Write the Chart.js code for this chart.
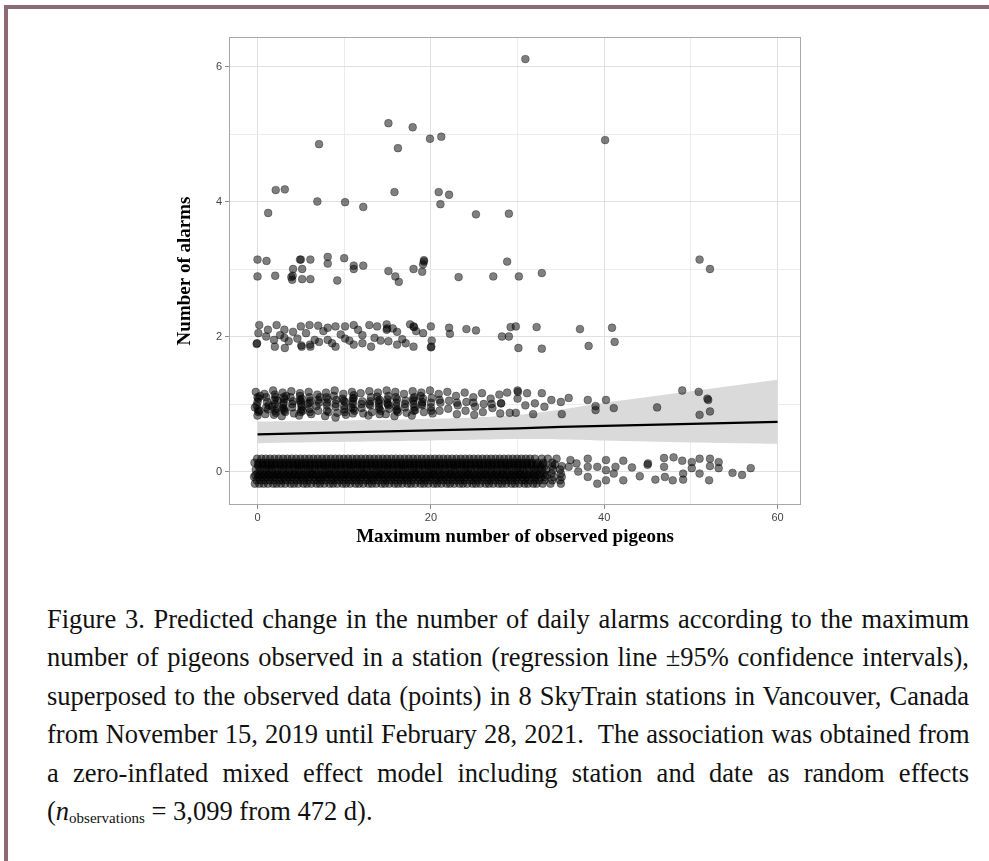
<!DOCTYPE html>
<html>
<head>
<meta charset="utf-8">
<script src="https://cdn.jsdelivr.net/npm/chart.js@4.4.1/dist/chart.umd.min.js"></script>
<style>
  html, body { margin: 0; padding: 0; background: #fff; }
  body { width: 989px; height: 861px; position: relative; overflow: hidden; }
  #frame { position: absolute; left: 4px; top: 5px; right: 0; bottom: 0;
           border-top: 4px solid #8e6a73; border-left: 4px solid #8e6a73; }
  #wrap { position: absolute; left: 0; top: 0; width: 989px; height: 580px; }
  .ln { position: absolute; left: 47px; width: 922px; height: 38px; line-height: 38px;
        font-family: 'Liberation Serif', 'Times New Roman', serif; font-size: 26.5px;
        color: #111; white-space: nowrap; text-align: left; }
  .ln sub { font-size: 15px; vertical-align: -3px; line-height: 0; }
</style>
</head>
<body>
<div id="frame"></div>
<div id="wrap"><canvas id="c" width="989" height="580"></canvas></div>
<div id="caption"></div>
<script>
// ---------------- data ----------------
const xTicks = [0, 10, 20, 30, 40, 50, 60];
const xTickLabels = ['0', '', '20', '', '40', '', '60'];
const yTicks = [0, 1, 2, 3, 4, 5, 6];
const yTickLabels = ['0', '', '2', '', '4', '', '6'];

const xTitle = 'Maximum number of observed pigeons';
const yTitle = 'Number of alarms';

// observed days with 6 alarms
const alarms6 = [[30.9, 6.11]];
// 5 alarms
const alarms5 = [[7.1,4.85],[15.1,5.16],[17.9,5.10],[16.2,4.79],[19.9,4.93],[21.2,4.96],[40.1,4.91]];
// 4 alarms
const alarms4 = [[2.1,4.17],[3.15,4.18],[1.23,3.83],[6.9,4.0],[10.1,3.99],[12.2,3.92],[15.8,4.14],
  [20.9,4.14],[22.1,4.10],[21.1,3.96],[25.2,3.81],[29.0,3.82]];
// 3 alarms
const alarms3 = [[0,3.14],[1.04,3.12],[0,2.89],[2.04,2.90],[4.9,3.14],[5.0,3.14],[6.1,3.14],[4.1,3.0],
  [5.15,3.0],[3.9,2.88],[4.0,2.84],[4.05,2.9],[5.15,2.85],[6.1,2.85],[8.1,3.18],[8.1,3.08],[10.0,3.16],
  [11.1,3.05],[11.1,3.0],[12.2,3.05],[9.2,2.83],[15.1,2.97],[15.9,2.89],[16.3,2.81],[18.0,3.0],[19.0,2.96],
  [19.1,3.07],[19.2,3.13],[19.2,3.11],[23.2,2.88],[27.2,2.89],[28.8,3.11],[30.15,2.89],[32.8,2.94],
  [51.0,3.14],[52.2,3.0]];
// 2 alarms
const alarms2 = [[0.2,2.17],[0.1,2.05],[-0.1,1.89],[-0.05,1.9],[1.0,2.0],[1.9,1.95],[2.0,1.85],[2.2,2.17],
  [3.1,2.1],[3.1,1.98],[3.15,1.83],[4.1,2.07],[5.0,2.15],[5.1,1.85],[5.05,1.87],[6.0,2.17],[6.1,1.85],
  [6.05,1.88],[7.0,2.16],[7.1,1.92],[8.1,2.13],[8.1,1.95],[9.0,2.15],[9.0,1.85],[10.1,2.15],[10.1,1.97],
  [11.1,2.17],[11.1,1.88],[12.1,2.02],[12.1,1.9],[12.9,2.17],[13.1,1.85],[13.8,2.15],[14.2,1.94],
  [14.9,2.18],[14.9,2.1],[14.95,2.12],[15.1,1.93],[16.1,2.07],[16.1,1.88],[17.1,1.9],[18.0,2.15],
  [18.05,2.14],[18.0,1.85],[18.3,2.08],[20.0,2.15],[20.1,1.94],[20.0,1.84],[20.05,1.85],[22.1,2.13],
  [22.2,2.04],[24.1,2.11],[25.2,2.09],[28.2,2.0],[29.0,2.0],[29.2,2.14],[29.8,2.15],[32.2,2.14],
  [37.2,2.11],[40.9,2.13],[30.1,1.83],[32.8,1.82],[38.2,1.86],[41.2,1.92],
  [1.2,2.1],[2.6,2.02],[3.6,1.93],[4.6,1.97],[5.6,2.05],[6.6,1.95],[7.6,2.08],[8.6,1.9],[9.6,2.03],
  [10.6,1.94],[11.6,2.1],[13.5,1.98],[15.6,2.12],[16.7,1.96],[17.6,2.18],[19.1,2.05]];
// 1 alarm
const alarms1 = [
  [-0.2,1.18],[0.1,1.08],[-0.1,0.98],[0.2,0.9],[0,0.83],[0.3,1.12],[-0.3,0.95],[0.0,1.03],[0.1,0.88],
  [0.8,1.15],[1.1,1.03],[1.2,0.92],[0.9,0.85],[1.0,1.1],[1.3,0.98],[1.0,0.95],
  [1.8,1.2],[2.1,1.1],[2.0,1.0],[2.2,0.93],[1.9,0.84],[2.3,1.05],[1.7,0.96],[2.0,1.14],[2.1,0.87],
  [2.9,1.17],[3.1,1.07],[3.0,0.99],[3.2,0.88],[2.8,0.82],[3.3,1.12],[2.9,0.94],[3.0,1.02],[3.1,0.9],
  [3.9,1.19],[4.1,1.04],[4.0,0.95],[4.2,0.86],[3.8,1.1],[4.0,1.0],
  [4.9,1.16],[5.1,1.08],[5.0,1.0],[5.2,0.9],[4.8,0.83],[5.1,0.96],[4.9,1.12],[5.0,1.04],[5.0,0.88],
  [5.9,1.18],[6.1,1.05],[6.0,0.93],[6.2,0.85],[5.8,1.0],[6.0,1.1],
  [6.9,1.14],[7.1,1.02],[7.0,0.9],[6.8,0.97],[7.2,1.1],[7.0,1.06],
  [7.9,1.17],[8.1,1.07],[8.0,0.98],[8.2,0.88],[7.8,0.82],[8.0,1.02],
  [8.9,1.2],[9.1,1.06],[9.0,0.96],[9.2,0.87],[8.8,1.12],[9.0,0.8],[9.0,1.0],
  [9.9,1.15],[10.1,1.03],[10.0,0.92],[10.2,0.84],[9.8,1.08],[10.0,0.97],
  [10.9,1.18],[11.1,1.09],[11.0,1.0],[11.2,0.9],[10.8,0.95],[11.1,1.13],[11.0,1.04],[11.0,0.86],
  [11.9,1.16],[12.1,1.04],[12.0,0.94],[12.2,0.86],[12.0,1.0],
  [12.9,1.19],[13.1,1.1],[13.0,0.98],[13.2,0.88],[12.8,0.83],[13.0,1.04],
  [13.9,1.17],[14.1,1.06],[14.0,0.96],[14.2,0.9],[13.8,1.11],[14.0,1.01],[14.1,0.85],
  [14.9,1.2],[15.1,1.12],[15.0,1.02],[15.2,0.93],[14.8,0.85],[15.1,0.98],[15.0,1.07],
  [15.9,1.18],[16.1,1.07],[16.0,0.97],[16.2,0.88],[15.8,0.82],[16.0,1.02],[16.1,0.92],
  [16.9,1.15],[17.1,1.05],[17.0,0.95],[17.2,0.87],[17.0,1.0],
  [17.9,1.19],[18.1,1.1],[18.0,1.0],[18.2,0.91],[17.8,0.83],[18.0,1.05],[18.1,0.95],
  [18.9,1.17],[19.1,1.08],[19.0,0.98],[19.2,0.88],[18.8,1.12],[19.0,1.03],
  [19.9,1.2],[20.1,1.09],[20.0,0.95],[20.2,0.86],[20.0,1.02],
  [20.9,1.15],[21.1,1.02],[21.0,0.9],
  [21.9,1.18],[22.1,1.05],[22.0,0.93],
  [22.9,1.12],[23.1,0.98],[23.0,0.85],
  [23.9,1.17],[24.1,1.03],[24.0,0.9],
  [24.9,1.1],[25.1,0.96],[25.0,0.84],
  [25.9,1.16],[26.1,1.0],[26.0,0.88],
  [26.9,1.08],[27.1,0.94],
  [27.9,1.14],[28.1,1.01],[28.0,0.86],
  [49.0,1.20],[50.9,1.18],[51.9,1.08],[52.0,1.06],[51.0,0.84],[52.2,0.89],[46.1,0.95],[38.1,1.06],
  [39.0,0.97],[39.0,0.91],[40.2,1.06],[41.1,0.94],[35.9,1.09],[35.1,0.85],[35.0,1.03],[33.9,1.06],
  [33.1,0.96],[32.8,1.16],[32.0,1.01],[31.8,0.85],[31.1,1.16],[30.0,1.2],[30.05,1.18],[30.0,1.08],
  [29.8,0.87],[29.1,0.87],[28.8,1.17],[28.1,1.01],[30.9,0.98],
  // darker clusters (overlapping observations) in the 0-19 range
  [0.0,1.1],[0.05,0.92],[1.95,1.06],[2.05,0.9],[3.0,1.1],[3.05,0.93],[4.9,1.06],[5.05,0.92],
  [6.0,1.02],[6.05,0.88],[7.95,1.1],[8.0,0.9],[9.95,1.05],[10.05,0.88],[11.0,1.08],[11.05,0.93],
  [12.9,1.0],[13.95,1.05],[14.05,0.93],[15.0,1.0],[15.95,1.1],[16.05,0.9],[17.95,1.08],[18.05,0.9],
  [18.95,1.0],[20.05,0.9],[21.0,1.06],[23.0,1.02],[24.9,1.02],[27.0,1.0]];

// 0 alarms: the dense band, one list of pigeon counts per jitter row
const zeroRowLevels = [-0.18, -0.13, -0.08, -0.03, 0.03, 0.08, 0.13, 0.19, -0.055, 0.105];
const zeroRow1 = [-0.3,0.2,0.7,1.2,1.8,2.2,2.7,3.2,3.8,4.2,4.7,5.3,5.7,6.2,6.8,7.2,7.7,8.3,8.7,9.2,9.8,10.2,10.7,11.3,11.7,12.2,12.8,13.2,13.7,14.3,14.7,15.2,15.8,16.2,16.7,17.3,17.7,18.2,18.8,19.2,19.7,20.3,20.7,21.2,21.8,22.2,22.7,23.3,23.7,24.2,24.8,25.2,25.7,26.3,26.7,27.2,27.8,28.2,28.7,29.3,29.7,30.2,30.8,31.2,31.8,32.2,32.9,33.8,35.0];
const zeroRow2 = [-0.1,0.4,0.9,1.4,1.9,2.5,2.9,3.4,3.9,4.5,4.9,5.4,5.9,6.5,6.9,7.4,7.9,8.5,8.9,9.4,9.9,10.5,10.9,11.4,11.9,12.5,12.9,13.4,13.9,14.5,14.9,15.4,15.9,16.5,16.9,17.4,17.9,18.5,18.9,19.4,19.9,20.5,20.9,21.4,21.9,22.5,22.9,23.4,23.9,24.5,24.9,25.4,25.9,26.5,26.9,27.4,27.9,28.5,28.9,29.4,29.9,30.5,30.9,31.4,32.0,32.5,33.1,34.0,34.9];
const zeroRow3 = [-0.4,0.1,0.6,1.1,1.6,2.0,2.6,3.1,3.6,4.0,4.6,5.1,5.6,6.0,6.6,7.1,7.6,8.0,8.6,9.1,9.6,10.0,10.6,11.1,11.6,12.0,12.6,13.1,13.6,14.0,14.6,15.1,15.6,16.0,16.6,17.1,17.6,18.0,18.6,19.1,19.6,20.0,20.6,21.1,21.6,22.0,22.6,23.1,23.6,24.0,24.6,25.1,25.6,26.0,26.6,27.1,27.6,28.0,28.6,29.1,29.6,30.0,30.6,31.1,31.7,32.1,32.7,33.2,34.2,35.1];
const zeroRow4 = [0.0,0.5,1.0,1.5,2.1,2.4,3.0,3.5,4.1,4.4,5.0,5.5,6.1,6.4,7.0,7.5,8.1,8.4,9.0,9.5,10.1,10.4,11.0,11.5,12.1,12.4,13.0,13.5,14.1,14.4,15.0,15.5,16.1,16.4,17.0,17.5,18.1,18.4,19.0,19.5,20.1,20.4,21.0,21.5,22.1,22.4,23.0,23.5,24.1,24.4,25.0,25.5,26.1,26.4,27.0,27.5,28.1,28.4,29.0,29.5,30.1,30.4,31.0,31.5,32.0,32.6,33.0,33.9,35.0];
const zeroRow5 = [-0.2,0.3,0.8,1.3,1.7,2.3,2.8,3.3,3.7,4.3,4.8,5.3,5.8,6.3,6.7,7.3,7.8,8.3,8.8,9.3,9.7,10.3,10.8,11.3,11.8,12.3,12.7,13.3,13.8,14.3,14.8,15.3,15.7,16.3,16.8,17.3,17.8,18.3,18.7,19.3,19.8,20.3,20.8,21.3,21.7,22.3,22.8,23.3,23.8,24.3,24.7,25.3,25.8,26.3,26.8,27.3,27.7,28.3,28.8,29.3,29.8,30.3,30.7,31.3,31.9,32.3,32.8,33.3,34.1,34.9];
const zeroRow6 = [0.1,0.6,1.1,1.6,2.0,2.6,3.0,3.6,4.1,4.6,5.0,5.6,6.0,6.6,7.1,7.6,8.0,8.6,9.0,9.6,10.1,10.6,11.0,11.6,12.0,12.6,13.1,13.6,14.0,14.6,15.0,15.6,16.1,16.6,17.0,17.6,18.0,18.6,19.1,19.6,20.0,20.6,21.0,21.6,22.1,22.6,23.0,23.6,24.0,24.6,25.1,25.6,26.0,26.6,27.0,27.6,28.1,28.6,29.0,29.6,30.0,30.6,31.1,31.6,32.1,32.6,33.1,34.0,35.1];
const zeroRow7 = [-0.35,0.15,0.65,1.15,1.65,2.15,2.65,3.15,3.65,4.15,4.65,5.15,5.65,6.15,6.65,7.15,7.65,8.15,8.65,9.15,9.65,10.15,10.65,11.15,11.65,12.15,12.65,13.15,13.65,14.15,14.65,15.15,15.65,16.15,16.65,17.15,17.65,18.15,18.65,19.15,19.65,20.15,20.65,21.15,21.65,22.15,22.65,23.15,23.65,24.15,24.65,25.15,25.65,26.15,26.65,27.15,27.65,28.15,28.65,29.15,29.65,30.15,30.65,31.15,31.65,32.3,33.0,34.0];
const zeroRow8 = [-0.05,0.45,0.95,1.45,1.95,2.45,2.95,3.45,3.95,4.45,4.95,5.45,5.95,6.45,6.95,7.45,7.95,8.45,8.95,9.45,9.95,10.45,10.95,11.45,11.95,12.45,12.95,13.45,13.95,14.45,14.95,15.45,15.95,16.45,16.95,17.45,17.95,18.45,18.95,19.45,19.95,20.45,20.95,21.45,21.95,22.45,22.95,23.45,23.95,24.45,24.95,25.45,25.95,26.45,26.95,27.45,27.95,28.45,28.95,29.45,29.95,30.45,30.95,31.45,32.0,32.8,33.5,34.5];
const zeroRow9 = [-0.25,0.25,0.75,1.25,1.75,2.25,2.75,3.25,3.75,4.25,4.75,5.25,5.75,6.25,6.75,7.25,7.75,8.25,8.75,9.25,9.75,10.25,10.75,11.25,11.75,12.25,12.75,13.25,13.75,14.25,14.75,15.25,15.75,16.25,16.75,17.25,17.75,18.25,18.75,19.25,19.75,20.25,20.75,21.25,21.75,22.25,22.75,23.25,23.75,24.25,24.75,25.25,25.75,26.25,26.75,27.25,27.75,28.25,28.75,29.25,29.75,30.25,30.75,31.25,31.85,32.4,33.4];
const zeroRow10 = [0.05,0.55,1.05,1.55,2.05,2.55,3.05,3.55,4.05,4.55,5.05,5.55,6.05,6.55,7.05,7.55,8.05,8.55,9.05,9.55,10.05,10.55,11.05,11.55,12.05,12.55,13.05,13.55,14.05,14.55,15.05,15.55,16.05,16.55,17.05,17.55,18.05,18.55,19.05,19.55,20.05,20.55,21.05,21.55,22.05,22.55,23.05,23.55,24.05,24.55,25.05,25.55,26.05,26.55,27.05,27.55,28.05,28.55,29.05,29.55,30.05,30.55,31.05,31.55,32.15,32.9,34.3];
// 0 alarms: the sparse tail beyond ~35 pigeons
const alarms0Tail = [[36.1,0.17],[35.9,0.07],[36.8,0.12],[37.0,0.0],[38.1,0.19],[38.1,0.07],[38.1,-0.08],
  [39.2,-0.18],[39.2,0.07],[40.2,0.17],[40.2,0.02],[40.2,-0.13],[41.1,-0.03],[41.3,0.07],[42.2,0.16],
  [42.2,-0.13],[43.2,0.06],[44.1,-0.07],[45.0,0.10],[45.05,0.12],[45.9,-0.12],[46.9,0.20],[46.9,0.07],
  [47.0,-0.08],[48.0,0.21],[47.9,-0.13],[49.0,0.16],[49.1,-0.03],[49.1,-0.12],[50.1,0.14],[50.1,0.05],
  [51.0,0.19],[51.0,-0.03],[52.2,0.19],[52.2,0.08],[52.1,-0.13],[53.2,0.14],[53.2,0.05],[54.8,-0.02],
  [55.9,-0.05],[56.9,0.05]];

// fitted regression line and 95% confidence band
const fitX     = [0, 10, 20, 25, 30, 35, 40, 50, 60];
const fitY     = [0.55, 0.58, 0.61, 0.625, 0.64, 0.66, 0.675, 0.705, 0.735];
const ciUpper  = [0.74, 0.755, 0.78, 0.80, 0.84, 0.92, 1.02, 1.19, 1.36];
const ciLower  = [0.42, 0.44, 0.46, 0.47, 0.48, 0.475, 0.46, 0.43, 0.41];

// ---------------- build ----------------
const toPts = arr => arr.map(p => ({x: p[0], y: p[1]}));
const zeroRows = [zeroRow1, zeroRow2, zeroRow3, zeroRow4, zeroRow5, zeroRow6, zeroRow7, zeroRow8, zeroRow9, zeroRow10];
const alarms0 = [];
zeroRows.forEach((row, i) => row.forEach(x => alarms0.push([x, zeroRowLevels[i]])));
alarms0Tail.forEach(p => alarms0.push(p));

const pointStyle = {
  type: 'scatter',
  pointRadius: 3.9,
  pointBackgroundColor: 'rgba(0,0,0,0.5)',
  pointBorderColor: 'rgba(0,0,0,0.32)',
  pointBorderWidth: 1,
  pointHoverRadius: 3.9,
  showLine: false,
  order: 0
};
const levels = [alarms0, alarms1, alarms2, alarms3, alarms4, alarms5, alarms6];
const datasets = levels.map((arr, i) => Object.assign({label: i + ' alarms', data: toPts(arr)}, pointStyle));

datasets.push({
  type: 'line', label: 'fit', data: fitX.map((x, i) => ({x, y: fitY[i]})),
  borderColor: '#000', borderWidth: 2.2, pointRadius: 0, fill: false, tension: 0.2, order: 1
});
const lowIdx = datasets.length;
datasets.push({
  type: 'line', label: 'ci lower', data: fitX.map((x, i) => ({x, y: ciLower[i]})),
  borderWidth: 0, borderColor: 'rgba(0,0,0,0)', pointRadius: 0, fill: false, tension: 0.3, order: 3
});
datasets.push({
  type: 'line', label: 'ci upper', data: fitX.map((x, i) => ({x, y: ciUpper[i]})),
  borderWidth: 0, borderColor: 'rgba(0,0,0,0)', pointRadius: 0, fill: lowIdx,
  backgroundColor: '#dadada', tension: 0.3, order: 2
});

const framePlugin = {
  id: 'frame',
  beforeDatasetsDraw(chart) {
    const {ctx, chartArea: a} = chart;
    ctx.save();
    ctx.strokeStyle = '#a8a8a8';
    ctx.lineWidth = 1;
    ctx.strokeRect(Math.round(a.left) + 0.5, Math.round(a.top) + 0.5,
                   Math.round(a.right - a.left) - 1, Math.round(a.bottom - a.top) - 1);
    ctx.restore();
  }
};

const tickFont = {family: "'Liberation Sans', Arial, sans-serif", size: 11};
const titleFont = {family: "'Liberation Serif', 'Times New Roman', serif", size: 19, weight: 'bold'};

new Chart(document.getElementById('c'), {
  type: 'scatter',
  data: {datasets},
  plugins: [framePlugin],
  options: {
    responsive: false,
    animation: false,
    devicePixelRatio: 1,
    events: [],
    layout: {padding: {left: 172, right: 188, top: 37, bottom: 25}},
    plugins: {legend: {display: false}, tooltip: {enabled: false}},
    scales: {
      x: {
        type: 'linear', min: -3.29, max: 62.7,
        afterBuildTicks: ax => { ax.ticks = xTicks.map(v => ({value: v})); },
        afterFit: ax => { ax.height = 50; },
        ticks: {
          font: tickFont, color: '#444', padding: 2, maxRotation: 0, autoSkip: false,
          callback: (v) => xTickLabels[xTicks.indexOf(v)]
        },
        grid: {
          color: c => (c.tick && c.tick.value % 20 === 0) ? '#e0e0e0' : '#ececec',
          tickColor: c => (c.tick && c.tick.value % 20 === 0) ? '#8a8a8a' : 'rgba(0,0,0,0)',
          tickLength: 4, lineWidth: 1
        },
        border: {display: false},
        title: {display: true, text: xTitle, font: titleFont, color: '#000', padding: {top: 0, bottom: 7}}
      },
      y: {
        type: 'linear', min: -0.496, max: 6.437,
        afterBuildTicks: ax => { ax.ticks = yTicks.map(v => ({value: v})); },
        afterFit: ax => { ax.width = 57; },
        ticks: {
          font: tickFont, color: '#444', padding: 3, autoSkip: false,
          callback: (v) => yTickLabels[yTicks.indexOf(v)]
        },
        grid: {
          color: c => (c.tick && c.tick.value % 2 === 0) ? '#e0e0e0' : '#ececec',
          tickColor: c => (c.tick && c.tick.value % 2 === 0) ? '#8a8a8a' : 'rgba(0,0,0,0)',
          tickLength: 4, lineWidth: 1
        },
        border: {display: false},
        title: {display: true, text: yTitle, font: titleFont, color: '#000', padding: {top: 2, bottom: 0}}
      }
    }
  }
});

// ---------------- caption ----------------
const captionLines = [
  'Figure 3. Predicted change in the number of daily alarms according to the maximum',
  'number of pigeons observed in a station (regression line \u00b195% confidence intervals),',
  'superposed to the observed data (points) in 8 SkyTrain stations in Vancouver, Canada',
  'from November 15, 2019 until February 28, 2021.\u00a0 The association was obtained from',
  'a zero-inflated mixed effect model including station and date as random effects'
];
const captionLast = ['(', 'n', 'observations', ' = 3,099 from 472 d).'];
const capTop = 600, capStep = 38.4, capWidth = 922;

const cap = document.getElementById('caption');
captionLines.forEach((txt, i) => {
  const d = document.createElement('div');
  d.className = 'ln';
  d.style.top = (capTop + i * capStep) + 'px';
  const s = document.createElement('span');
  s.textContent = txt;
  d.appendChild(s);
  cap.appendChild(d);
  const natural = s.getBoundingClientRect().width;
  const spaces = (txt.match(/ /g) || []).length;
  const extra = capWidth - natural;
  if (extra >= -spaces * 2) {
    s.style.wordSpacing = (extra / spaces) + 'px';
  } else {
    s.style.display = 'inline-block';
    s.style.transformOrigin = '0 50%';
    s.style.transform = 'scaleX(' + (capWidth / natural) + ')';
  }
});
const last = document.createElement('div');
last.className = 'ln';
last.style.top = (capTop + 5 * capStep) + 'px';
last.appendChild(document.createTextNode(captionLast[0]));
const it = document.createElement('i'); it.textContent = captionLast[1]; last.appendChild(it);
const sb = document.createElement('sub'); sb.textContent = captionLast[2]; last.appendChild(sb);
last.appendChild(document.createTextNode(captionLast[3]));
cap.appendChild(last);
</script>
</body>
</html>
